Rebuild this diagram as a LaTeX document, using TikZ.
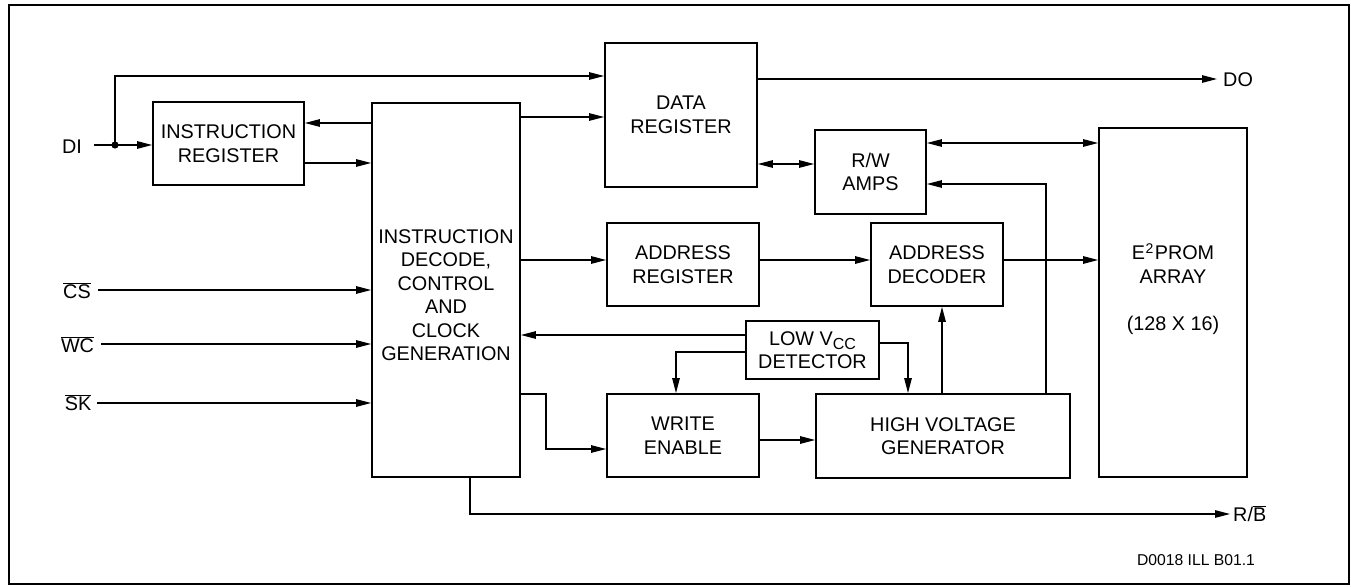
\documentclass[tikz,border=0pt]{standalone}
\usepackage{fontspec}
\setmainfont{Liberation Sans}
\usetikzlibrary{arrows.meta}
\newcommand{\blockfont}{\fontsize{19.8}{23.5}\selectfont}
\newcommand{\notefont}{\fontsize{15.7}{18}\selectfont}
\newcommand{\ovl}[1]{$\overline{\hbox{#1}}$}
\newcommand{\subidx}[1]{\raisebox{-4.5pt}{\fontsize{16}{16}\selectfont #1}}
\newcommand{\supidx}[1]{\kern0.5pt\raisebox{6.5pt}{\fontsize{14}{14}\selectfont #1}\kern1.5pt}
\begin{document}
\begin{tikzpicture}[x=1pt,y=-1pt,
  box/.style={draw, line width=1.8pt, inner sep=0pt, align=center, font=\blockfont},
  txt/.style={inner sep=0pt, align=center, font=\blockfont},
  pin/.style={inner sep=0pt, font=\blockfont},
  wire/.style={line width=1.25pt},
  arr/.style={wire, -{Triangle[length=15pt,width=7.5pt]}},
  darr/.style={wire, {Triangle[length=15pt,width=7.5pt]}-{Triangle[length=15pt,width=7.5pt]}},
]
\useasboundingbox (0,0) rectangle (1351,586);
\draw[line width=2pt] (9,5) rectangle (1349,584);

% functional blocks
\node[box, minimum width=151, minimum height=83]  (IR) at (228.5,143.5) {INSTRUCTION\\REGISTER};
\node[box, minimum width=148, minimum height=374] (ID) at (446,290) {};
\node[txt] at (446,295) {INSTRUCTION\\DECODE,\\CONTROL\\AND\\CLOCK\\GENERATION};
\node[box, minimum width=152, minimum height=144] (DR) at (681,115) {DATA\\REGISTER};
\node[box, minimum width=111, minimum height=84]  (RW) at (870.5,172) {R/W\\AMPS};
\node[box, minimum width=148, minimum height=349] (E2) at (1173,302.5) {};
\node[txt] at (1173,289) {E\supidx{2}PROM\\ARRAY\\[23.5pt](128 X 16)};
\node[box, minimum width=152, minimum height=83]  (AR) at (683,264.5) {ADDRESS\\REGISTER};
\node[box, minimum width=132, minimum height=83]  (AD) at (937,264.5) {ADDRESS\\DECODER};
\node[box, minimum width=133, minimum height=58]  (LV) at (812.5,350) {LOW V\subidx{CC}\\DETECTOR};
\node[box, minimum width=152, minimum height=83]  (WE) at (683,435.5) {WRITE\\ENABLE};
\node[box, minimum width=254, minimum height=84]  (HV) at (943,436) {HIGH VOLTAGE\\GENERATOR};

% external pins
\node[pin, anchor=base] (DI) at (72,153) {DI};
\node[pin, anchor=base] (CS) at (77,298) {\ovl{CS}};
\node[pin, anchor=base] (WC) at (77.5,352) {\ovl{WC}};
\node[pin, anchor=base] (SK) at (78,410) {\ovl{SK}};
\node[pin, anchor=base west] (DO) at (1223,86) {DO};
\node[pin, anchor=base west] (RB) at (1233,521) {R/\ovl{B}};
\node[inner sep=0pt, font=\notefont] (note) at (1196,560) {D0018 ILL B01.1};

\coordinate (DIin) at (94,145);
\coordinate (J) at (115,145);
\coordinate (DOend) at (1217,79);
\coordinate (RBend) at (1230,514);

% serial data in
\draw[arr] (DIin) -- (IR.west |- DIin);
\draw[arr] (J) |- (DR.west |- 0,76);
\fill (J) circle (3.6);

% instruction register <-> decode
\draw[arr] (ID.west |- 0,123) -- (IR.east |- 0,123);
\draw[arr] (IR.east |- 0,163) -- (ID.west |- 0,163);

% control inputs
\draw[arr] (98,290) -- (ID.west |- 0,290);
\draw[arr] (101,344) -- (ID.west |- 0,344);
\draw[arr] (97,403) -- (ID.west |- 0,403);

% data path
\draw[arr] (ID.east |- 0,117) -- (DR.west |- 0,117);
\draw[arr] (DR.east |- DOend) -- (DOend);
\draw[darr] (DR.east |- 0,164) -- (RW.west |- 0,164);
\draw[darr] (RW.east |- 0,143) -- (E2.west |- 0,143);

% address path
\draw[arr] (ID.east |- 0,260) -- (AR.west |- 0,260);
\draw[arr] (AR.east |- 0,260) -- (AD.west |- 0,260);
\draw[arr] (AD.east |- 0,260) -- (E2.west |- 0,260);

% high voltage and supply monitor
\draw[arr] (HV.north -| 942,0) -- (AD.south -| 942,0);
\draw[arr] (HV.north -| 1046,0) |- (RW.east |- 0,184);
\draw[arr] (LV.west |- 0,335) -- (ID.east |- 0,335);
\draw[arr] (LV.west |- 0,352) -| (WE.north -| 676,0);
\draw[arr] (LV.east |- 0,343) -| (HV.north -| 908,0);
\draw[arr] (ID.east |- 0,394) -- (546,394) |- (WE.west |- 0,449);
\draw[arr] (WE.east |- 0,440) -- (HV.west |- 0,440);

% ready / busy output
\draw[arr] (ID.south -| 470,0) |- (RBend);
\end{tikzpicture}
\end{document}
